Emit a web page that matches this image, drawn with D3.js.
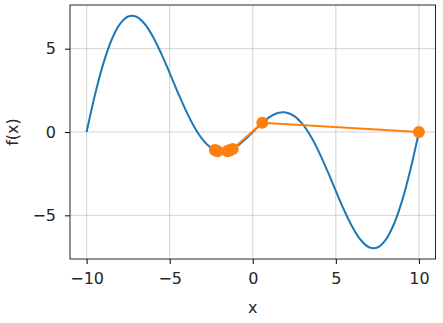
<!DOCTYPE html>
<html><head><meta charset="utf-8">
<script src="https://cdn.jsdelivr.net/npm/d3@7"></script>
<style>body{margin:0;background:#fff}svg{display:block}text{font-family:"DejaVu Sans",sans-serif}</style>
</head><body><svg id="c" width="443" height="323"></svg>
<script>
const curveX = [-10,-9.5,-9,-8.5,-8,-7.5,-7,-6.5,-6,-5.5,-5,-4.5,-4,-3.5,-3,-2.5,-2,-1.5,-1,-0.5,0,0.5,1,1.5,2,2.5,3,3.5,4,4.5,5,5.5,6,6.5,7,7.5,8,8.5,9,9.5,10];
const curveY = [0,2.2173,4.0859,5.5199,6.4721,6.9291,6.9139,6.4801,5.7063,4.6895,3.5355,2.3511,1.2361,0.2747,-0.4693,-0.9567,-1.1756,-1.1406,-0.891,-0.4862,0,0.4862,0.891,1.1406,1.1756,0.9567,0.4693,-0.2747,-1.2361,-2.3511,-3.5355,-4.6895,-5.7063,-6.4801,-6.9139,-6.9291,-6.4721,-5.5199,-4.0859,-2.2173,0];
const pathX = [10,0.575,-1.207,-2.280,-1.344,-2.207,-1.425,-2.156,-1.485,-2.113,-1.532];
const pathY = [0,0.554,-1.017,-1.087,-1.083,-1.117,-1.116,-1.138,-1.136,-1.150,-1.150];
const xTicks = [-10,-5,0,5,10];
const yTicks = [-5,0,5];

const svg = d3.select("#c");
const L=70, R=435.5, T=5, B=259;
const x = d3.scaleLinear().domain([-11,11]).range([L,R]);
const y = d3.scaleLinear().domain([-7.62,7.62]).range([B,T]);
const fmt = d => d<0 ? "\u2212"+Math.abs(d) : String(d);

// grid
svg.append("g").selectAll("line").data(xTicks).join("line")
  .attr("x1",d=>x(d)).attr("x2",d=>x(d)).attr("y1",T).attr("y2",B)
  .attr("stroke","#b0b0b0").attr("stroke-width",0.8).attr("opacity",0.7);
svg.append("g").selectAll("line").data(yTicks).join("line")
  .attr("y1",d=>y(d)).attr("y2",d=>y(d)).attr("x1",L).attr("x2",R)
  .attr("stroke","#b0b0b0").attr("stroke-width",0.8).attr("opacity",0.7);

// curve
const cdata = curveX.map((v,i)=>[v,curveY[i]]);
svg.append("path").datum(cdata)
  .attr("d", d3.line().x(d=>x(d[0])).y(d=>y(d[1])).curve(d3.curveCatmullRom.alpha(0.5)))
  .attr("fill","none").attr("stroke","#1f77b4").attr("stroke-width",2);

// gd path
const pdata = pathX.map((v,i)=>[v,pathY[i]]);
svg.append("path").datum(pdata)
  .attr("d", d3.line().x(d=>x(d[0])).y(d=>y(d[1])))
  .attr("fill","none").attr("stroke","#ff7f0e").attr("stroke-width",2);
svg.append("g").selectAll("circle").data(pdata).join("circle")
  .attr("cx",d=>x(d[0])).attr("cy",d=>y(d[1])).attr("r",6).attr("fill","#ff7f0e");

// axes
const xa = svg.append("g").attr("transform",`translate(0,${B})`)
  .call(d3.axisBottom(x).tickValues(xTicks).tickFormat(fmt).tickSize(5).tickPadding(9));
const ya = svg.append("g").attr("transform",`translate(${L},0)`)
  .call(d3.axisLeft(y).tickValues(yTicks).tickFormat(fmt).tickSize(5).tickPadding(9));
[xa,ya].forEach(g=>{
  g.select(".domain").remove();
  g.selectAll("line").attr("stroke","#000").attr("stroke-width",1);
  g.selectAll("text").attr("font-size",16).attr("fill","#262626").attr("font-family","DejaVu Sans");
});
svg.append("rect").attr("x",L).attr("y",T).attr("width",R-L).attr("height",B-T)
  .attr("fill","none").attr("stroke","#262626").attr("stroke-width",1);

svg.append("text").attr("x",(L+R)/2).attr("y",313).attr("text-anchor","middle")
  .attr("font-size",16).attr("fill","#262626").text("x");
svg.append("text").attr("transform",`translate(18,${(T+B)/2}) rotate(-90)`)
  .attr("text-anchor","middle").attr("font-size",16).attr("fill","#262626").text("f(x)");
</script></body></html>
